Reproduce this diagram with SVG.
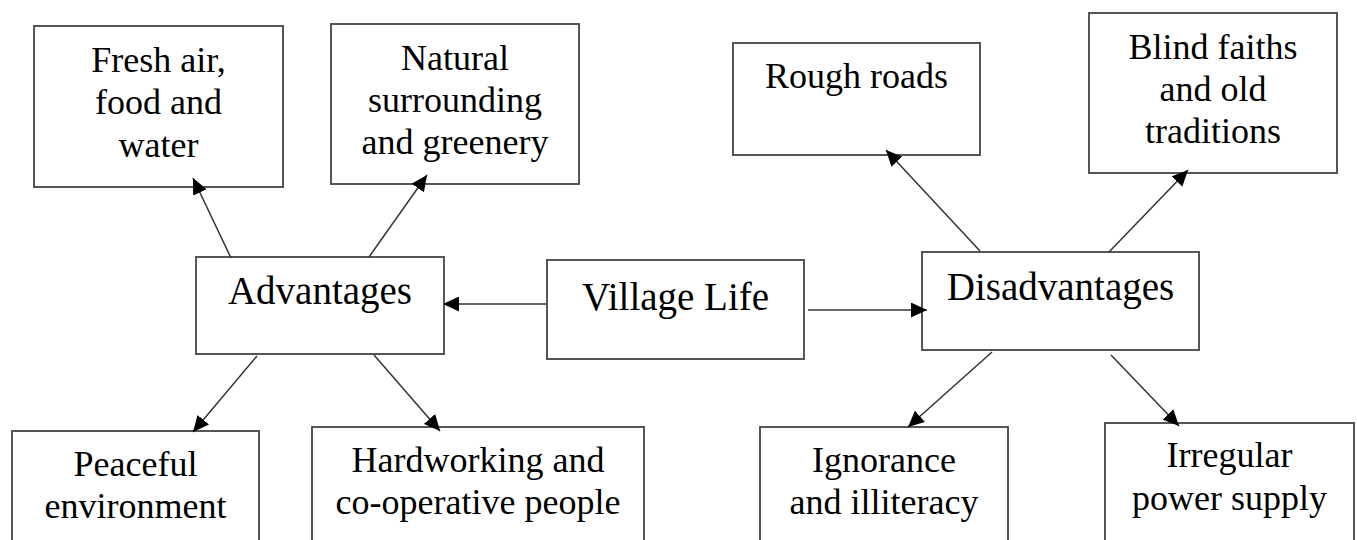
<svg xmlns="http://www.w3.org/2000/svg" width="1357" height="540" viewBox="0 0 1357 540">
<style>
.box{fill:#fff;stroke:#555;stroke-width:2}
.t{font-family:"Liberation Serif","Times New Roman",serif;font-size:36px;fill:#000;text-anchor:middle}
.m{font-size:39px}
.c{stroke:#333;stroke-width:1.5;fill:none;marker-end:url(#ah)}
</style>
<defs>
<marker id="ah" markerUnits="userSpaceOnUse" markerWidth="17" markerHeight="15" refX="16" refY="7.5" orient="auto">
<path d="M0,0 L16,7.5 L0,15 z" fill="#000"/>
</marker>
</defs>
<rect width="1357" height="540" fill="#fff"/>
<g id="fresh"><rect class="box" x="34" y="26" width="249" height="161"/>
<text class="t" x="158.5" y="72">Fresh air,</text><text class="t" x="158.5" y="114">food and</text><text class="t" x="158.5" y="157">water</text></g>
<g id="natural"><rect class="box" x="331" y="24" width="248" height="160"/>
<text class="t" x="455" y="70">Natural</text><text class="t" x="455" y="112">surrounding</text><text class="t" x="455" y="154">and greenery</text></g>
<g id="rough"><rect class="box" x="733" y="43" width="247" height="112"/>
<text class="t" x="856.5" y="88">Rough roads</text></g>
<g id="blind"><rect class="box" x="1089" y="13" width="248" height="160"/>
<text class="t" x="1213" y="59">Blind faiths</text><text class="t" x="1213" y="101">and old</text><text class="t" x="1213" y="143">traditions</text></g>
<g id="adv"><rect class="box" x="196" y="257" width="248" height="97"/>
<text class="t m" x="320" y="304">Advantages</text></g>
<g id="village"><rect class="box" x="547" y="260" width="257" height="99"/>
<text class="t m" x="675.5" y="310">Village Life</text></g>
<g id="disadv"><rect class="box" x="922" y="252" width="277" height="98"/>
<text class="t m" x="1060.5" y="300">Disadvantages</text></g>
<g id="peaceful"><rect class="box" x="12" y="431" width="247" height="120"/>
<text class="t" x="135.5" y="476">Peaceful</text><text class="t" x="135.5" y="518">environment</text></g>
<g id="hard"><rect class="box" x="312" y="427" width="332" height="124"/>
<text class="t" x="478" y="472">Hardworking and</text><text class="t" x="478" y="514">co-operative people</text></g>
<g id="ignorance"><rect class="box" x="760" y="427" width="248" height="124"/>
<text class="t" x="884" y="472">Ignorance</text><text class="t" x="884" y="514">and illiteracy</text></g>
<g id="irregular"><rect class="box" x="1105" y="423" width="249" height="128"/>
<text class="t" x="1229.5" y="467">Irregular</text><text class="t" x="1229.5" y="510">power supply</text></g>
<g id="connectors">
<line class="c" x1="231" y1="258" x2="193" y2="178"/>
<line class="c" x1="369" y1="257" x2="427" y2="175"/>
<line class="c" x1="546" y1="304" x2="443" y2="304"/>
<line class="c" x1="808" y1="310" x2="927" y2="310"/>
<line class="c" x1="980" y1="251" x2="886" y2="150"/>
<line class="c" x1="1109" y1="252" x2="1188" y2="170"/>
<line class="c" x1="992" y1="352" x2="908" y2="427"/>
<line class="c" x1="1111" y1="355" x2="1179" y2="426"/>
<line class="c" x1="257" y1="356" x2="193" y2="432"/>
<line class="c" x1="374" y1="355" x2="440" y2="431"/>
</g>
</svg>
